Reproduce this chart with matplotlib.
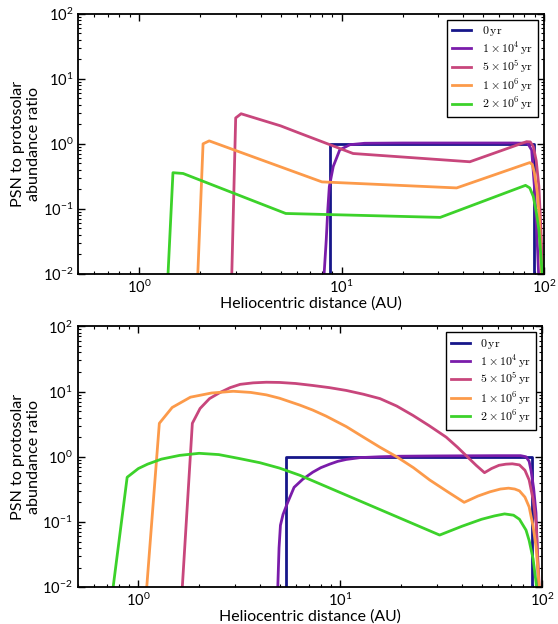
import matplotlib
matplotlib.use("Agg")
import matplotlib.pyplot as plt
import numpy as np

plt.rcParams['font.family'] = ['Lato', 'DejaVu Sans']
plt.rcParams['mathtext.fontset'] = 'cm'

labels = [r'$0\,\mathrm{yr}$', r'$1\times10^{4}\,\mathrm{yr}$', r'$5\times10^{5}\,\mathrm{yr}$',
          r'$1\times10^{6}\,\mathrm{yr}$', r'$2\times10^{6}\,\mathrm{yr}$']
colors = ['#16168a', '#7a1caa', '#c8467c', '#fc9a4a', '#3cd22a']

# ---- Top panel ----
top_x0 = [8.8, 8.8, 89.6, 89.6]
top_y0 = [1e-3, 1.0, 1.0, 1e-3]
top_x1 = [8.2, 8.4, 8.55, 8.7, 9.1, 9.8, 11.0, 13.0, 20.0, 40.0, 70.0, 83.0, 86.9, 89.6, 92.3, 94.3]
top_y1 = [0.01, 0.033, 0.097, 0.22, 0.45, 0.81, 0.97, 1.02, 1.03, 1.03, 1.03, 1.02, 0.8, 0.22, 0.037, 0.008]
top_x2 = [2.87, 3.0, 3.19, 5.0, 6.2, 11.4, 43.0, 82.0, 85.5, 88.5, 91.5, 94.3, 96.9, 98.5]
top_y2 = [0.01, 2.5, 2.9, 1.89, 1.46, 0.71, 0.53, 1.08, 1.07, 0.91, 0.55, 0.22, 0.037, 0.008]
top_x3 = [1.95, 2.07, 2.22, 8.0, 37.0, 85.0, 87.5, 89.6, 92.5, 95.0, 97.0]
top_y3 = [0.01, 1.0, 1.11, 0.26, 0.21, 0.515, 0.48, 0.36, 0.18, 0.068, 0.01]
top_x4 = [1.39, 1.47, 1.65, 5.3, 30.7, 81.0, 85.0, 88.5, 91.5, 94.3, 98.5]
top_y4 = [0.01, 0.36, 0.35, 0.085, 0.074, 0.23, 0.21, 0.155, 0.09, 0.048, 0.008]

# ---- Bottom panel ----
bot_x0 = [5.4, 5.4, 89.0, 89.0]
bot_y0 = [1e-3, 1.0, 1.0, 1e-3]
bot_x1 = [4.9, 4.97, 5.05, 5.2, 5.45, 5.9, 6.5, 7.3, 8.0, 8.85, 9.7, 10.7, 12.5, 15.7, 20.0, 30.0, 60.0, 78.0, 83.0, 86.0, 88.0, 90.5, 93.0, 95.7]
bot_y1 = [0.01, 0.04, 0.089, 0.13, 0.19, 0.34, 0.45, 0.58, 0.68, 0.77, 0.85, 0.91, 0.97, 1.0, 1.02, 1.03, 1.04, 1.04, 1.0, 0.85, 0.6, 0.33, 0.137, 0.01]
bot_x2 = [1.65, 1.85, 2.02, 2.25, 2.54, 2.85, 3.19, 3.7, 4.3, 5.0, 6.0, 7.3, 8.8, 10.7, 13.0, 15.7, 19.0, 22.9, 27.5, 33.4, 38.0, 42.5, 47.0, 51.7, 56.0, 61.0, 66.0, 71.0, 77.0, 82.0, 86.0, 90.0, 93.0, 96.5]
bot_y2 = [0.01, 3.26, 5.5, 7.8, 9.7, 11.5, 12.9, 13.6, 13.9, 13.8, 13.3, 12.4, 11.5, 10.4, 9.1, 7.8, 6.0, 4.3, 3.0, 2.0, 1.4, 1.0, 0.74, 0.57, 0.66, 0.74, 0.77, 0.78, 0.75, 0.62, 0.44, 0.22, 0.097, 0.01]
bot_x3 = [1.10, 1.27, 1.47, 1.81, 2.3, 2.95, 3.6, 4.3, 5.0, 6.3, 7.3, 8.5, 10.7, 13.0, 15.7, 19.0, 23.0, 27.7, 34.0, 41.0, 48.0, 55.0, 62.0, 68.0, 73.0, 77.0, 82.0, 86.0, 90.0, 93.0, 96.5]
bot_y3 = [0.01, 3.26, 5.7, 8.2, 9.5, 10.1, 9.7, 8.9, 7.9, 6.2, 5.2, 4.2, 2.9, 2.0, 1.4, 1.0, 0.68, 0.44, 0.29, 0.20, 0.25, 0.29, 0.32, 0.33, 0.32, 0.30, 0.24, 0.17, 0.085, 0.042, 0.01]
bot_x4 = [0.75, 0.88, 1.0, 1.11, 1.3, 1.6, 2.0, 2.5, 3.16, 4.0, 5.0, 6.3, 31.0, 40.0, 50.0, 58.0, 65.0, 72.0, 77.0, 83.0, 86.0, 90.0, 94.5]
bot_y4 = [0.01, 0.485, 0.66, 0.77, 0.92, 1.05, 1.13, 1.08, 0.94, 0.81, 0.67, 0.52, 0.063, 0.086, 0.11, 0.124, 0.133, 0.127, 0.11, 0.075, 0.052, 0.027, 0.008]

top_series = [(top_x0, top_y0), (top_x1, top_y1), (top_x2, top_y2), (top_x3, top_y3), (top_x4, top_y4)]
bot_series = [(bot_x0, bot_y0), (bot_x1, bot_y1), (bot_x2, bot_y2), (bot_x3, bot_y3), (bot_x4, bot_y4)]

fig = plt.figure(figsize=(5.58, 6.24), dpi=100)
ax1 = fig.add_axes([0.140, 0.561, 0.835, 0.417])
ax2 = fig.add_axes([0.139, 0.059, 0.833, 0.418])

for ax, series in [(ax1, top_series), (ax2, bot_series)]:
    for (x, y), c, lab in zip(series, colors, labels):
        ax.plot(x, y, color=c, lw=2.0, label=lab, solid_joinstyle='round')
    ax.set_xscale('log')
    ax.set_yscale('log')
    ax.set_xlim(0.5, 100)
    ax.set_ylim(0.01, 100)
    ax.tick_params(which='both', direction='in', top=True, right=True, labelsize=10.5, pad=3.5)
    ax.tick_params(which='major', length=5, width=1.0)
    ax.tick_params(which='minor', length=2.5, width=0.8)
    for s in ax.spines.values():
        s.set_linewidth(1.3)
    ax.set_xlabel('Heliocentric distance (AU)', fontsize=11.4, labelpad=0)
    ax.set_ylabel('PSN to protosolar\nabundance ratio', fontsize=11.6, labelpad=1)
    leg = ax.legend(loc='upper right', fontsize=8.6, handlelength=1.6, fancybox=False,
                    framealpha=1, edgecolor='black', borderpad=0.4, labelspacing=0.12,
                    handletextpad=0.9, borderaxespad=0.5)
    leg.get_frame().set_linewidth(1.0)

fig.savefig('out.png', dpi=100)
